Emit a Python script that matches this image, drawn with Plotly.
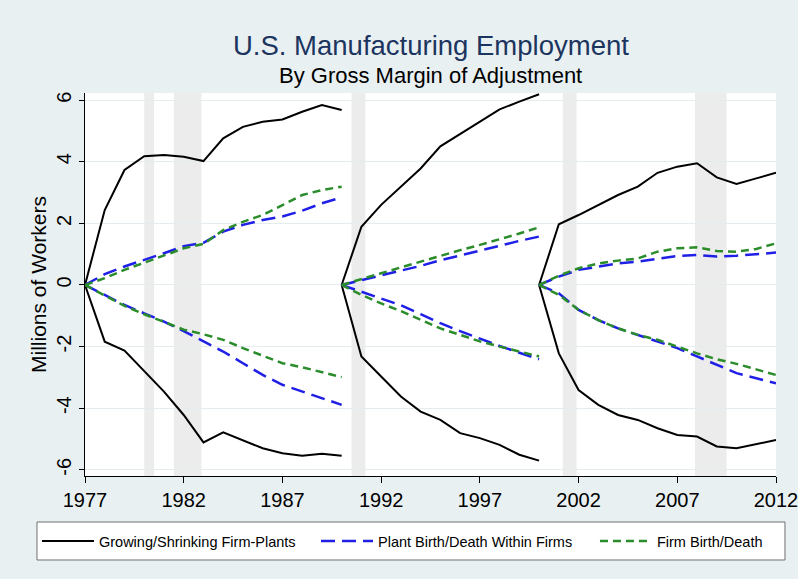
import plotly.graph_objects as go

# ---------------- data ----------------
years_a = list(range(1977, 1991))
years_b = list(range(1990, 2001))
years_c = list(range(2000, 2013))

growing_a = [0, 2.43, 3.73, 4.18, 4.22, 4.16, 4.02, 4.76, 5.13, 5.30, 5.37, 5.62, 5.84, 5.68]
shrinking_a = [0, -1.84, -2.13, -2.81, -3.46, -4.22, -5.11, -4.78, -5.03, -5.30, -5.46, -5.54, -5.48, -5.54]
plant_birth_a = [0, 0.35, 0.60, 0.81, 1.03, 1.26, 1.37, 1.73, 1.95, 2.11, 2.22, 2.41, 2.65, 2.84]
plant_death_a = [0, -0.32, -0.65, -0.92, -1.19, -1.50, -1.84, -2.16, -2.54, -2.92, -3.24, -3.46, -3.68, -3.89]
firm_birth_a = [0, 0.22, 0.49, 0.72, 0.94, 1.19, 1.33, 1.78, 2.05, 2.27, 2.59, 2.92, 3.08, 3.19]
firm_death_a = [0, -0.35, -0.68, -0.95, -1.20, -1.45, -1.60, -1.78, -2.05, -2.30, -2.54, -2.67, -2.84, -2.99]

growing_b = [0, 1.89, 2.60, 3.20, 3.78, 4.50, 4.90, 5.30, 5.70, 5.95, 6.19]
shrinking_b = [0, -2.32, -2.97, -3.62, -4.11, -4.38, -4.81, -4.97, -5.19, -5.51, -5.70]
plant_birth_b = [0, 0.15, 0.30, 0.46, 0.62, 0.80, 0.96, 1.12, 1.28, 1.43, 1.57]
plant_death_b = [0, -0.22, -0.43, -0.66, -0.95, -1.24, -1.50, -1.75, -1.98, -2.20, -2.41]
firm_birth_b = [0, 0.20, 0.38, 0.57, 0.76, 0.95, 1.13, 1.30, 1.48, 1.67, 1.87]
firm_death_b = [0, -0.32, -0.60, -0.85, -1.13, -1.41, -1.62, -1.83, -2.00, -2.17, -2.32]

growing_c = [0, 1.97, 2.27, 2.59, 2.92, 3.19, 3.64, 3.84, 3.95, 3.49, 3.28, 3.46, 3.64]
shrinking_c = [0, -2.22, -3.41, -3.89, -4.22, -4.38, -4.65, -4.87, -4.92, -5.24, -5.30, -5.16, -5.03]
plant_birth_c = [0, 0.27, 0.49, 0.59, 0.70, 0.76, 0.86, 0.94, 0.97, 0.92, 0.95, 0.99, 1.05]
plant_death_c = [0, -0.27, -0.81, -1.14, -1.41, -1.62, -1.84, -2.05, -2.32, -2.59, -2.86, -3.03, -3.19]
firm_birth_c = [0, 0.30, 0.54, 0.70, 0.79, 0.86, 1.08, 1.19, 1.22, 1.10, 1.08, 1.17, 1.35]
firm_death_c = [0, -0.32, -0.81, -1.14, -1.41, -1.62, -1.78, -2.00, -2.22, -2.41, -2.56, -2.74, -2.92]

recession_start = [1980.0, 1981.5, 1990.5, 2001.2, 2007.9]
recession_end = [1980.5, 1982.9, 1991.2, 2001.9, 2009.5]

x_tick_vals = [1977, 1982, 1987, 1992, 1997, 2002, 2007, 2012]
x_tick_labels = ["1977", "1982", "1987", "1992", "1997", "2002", "2007", "2012"]
y_tick_vals = [-6, -4, -2, 0, 2, 4, 6]
y_tick_labels = ["-6", "-4", "-2", "0", "2", "4", "6"]

series_names = ["Growing/Shrinking Firm-Plants", "Plant Birth/Death Within Firms", "Firm Birth/Death"]

# ---------------- build ----------------
def join(parts):
    xs, ys = [], []
    for px, py in parts:
        if xs:
            xs.append(None)
            ys.append(None)
        xs.extend(px)
        ys.extend(py)
    return xs, ys

groups = [
    [(years_a, growing_a), (years_a, shrinking_a), (years_b, growing_b), (years_b, shrinking_b),
     (years_c, growing_c), (years_c, shrinking_c)],
    [(years_a, plant_birth_a), (years_a, plant_death_a), (years_b, plant_birth_b), (years_b, plant_death_b),
     (years_c, plant_birth_c), (years_c, plant_death_c)],
    [(years_a, firm_birth_a), (years_a, firm_death_a), (years_b, firm_birth_b), (years_b, firm_death_b),
     (years_c, firm_birth_c), (years_c, firm_death_c)],
]
styles = [
    dict(color="#000000", width=2, dash="solid"),
    dict(color="#1f1fe6", width=2.5, dash="14px,7px"),
    dict(color="#2a8c2a", width=2.5, dash="8px,5px"),
]
legend_ids = ["legend", "legend2", "legend3"]
legend_x = [-0.0695, 0.3343, 0.738]

font_family = "Liberation Sans, Arial, sans-serif"

fig = go.Figure()
for name, parts, st, lg in zip(series_names, groups, styles, legend_ids):
    xs, ys = join(parts)
    fig.add_trace(go.Scatter(x=xs, y=ys, mode="lines", name=name, line=st, legend=lg,
                             connectgaps=False, hoverinfo="skip"))

for s, e in zip(recession_start, recession_end):
    fig.add_shape(type="rect", xref="x", yref="paper", x0=s, x1=e, y0=0, y1=1,
                  fillcolor="#ececec", line_width=0, layer="below")

# legend frame (white box with grey border)
fig.add_shape(type="rect", xref="paper", yref="paper", x0=-0.0695, x1=1.013,
              y0=-0.2193, y1=-0.1201, fillcolor="#ffffff",
              line=dict(color="#707070", width=1), layer="above")

legend_common = dict(orientation="h", xanchor="left", y=-0.1697, yanchor="middle",
                     bgcolor="rgba(0,0,0,0)", borderwidth=0, itemwidth=52,
                     font=dict(size=14.5, family=font_family, color="#000000"))

fig.update_layout(
    width=798, height=579,
    margin=dict(l=85, r=22, t=93, b=103),
    paper_bgcolor="#e9f0f2",
    plot_bgcolor="#ffffff",
    font=dict(family=font_family, color="#000000"),
    showlegend=True,
    legend=dict(x=legend_x[0], **legend_common),
    legend2=dict(x=legend_x[1], **legend_common),
    legend3=dict(x=legend_x[2], **legend_common),
    xaxis=dict(range=[1977, 2012], tickvals=x_tick_vals, ticktext=x_tick_labels,
               ticks="outside", ticklen=6, tickcolor="#000000", showline=True,
               linecolor="#000000", linewidth=1, showgrid=False, zeroline=False,
               automargin=False, ticklabeloverflow="allow", tickfont=dict(size=20)),
    yaxis=dict(range=[-6.2, 6.23], tickvals=y_tick_vals, ticktext=y_tick_labels,
               ticks="outside", ticklen=5, tickcolor="#000000", showline=True,
               linecolor="#000000", linewidth=1, showgrid=True, gridcolor="#e4ecef",
               gridwidth=1, zeroline=False, tickangle=-90, tickfont=dict(size=20),
               automargin=False, ticklabeloverflow="allow",
               title=dict(text="Millions of Workers", font=dict(size=21), standoff=0)),
    annotations=[
        dict(text="U.S. Manufacturing Employment", xref="paper", yref="paper",
             x=0.5, y=1.125, xanchor="center", yanchor="middle", showarrow=False,
             font=dict(size=27.5, color="#1c355f", family=font_family)),
        dict(text="By Gross Margin of Adjustment", xref="paper", yref="paper",
             x=0.5, y=1.045, xanchor="center", yanchor="middle", showarrow=False,
             font=dict(size=22, color="#000000", family=font_family)),
    ],
)

fig.write_html("out.html", config={"displayModeBar": False},
               post_script="document.body.style.margin='0';")
